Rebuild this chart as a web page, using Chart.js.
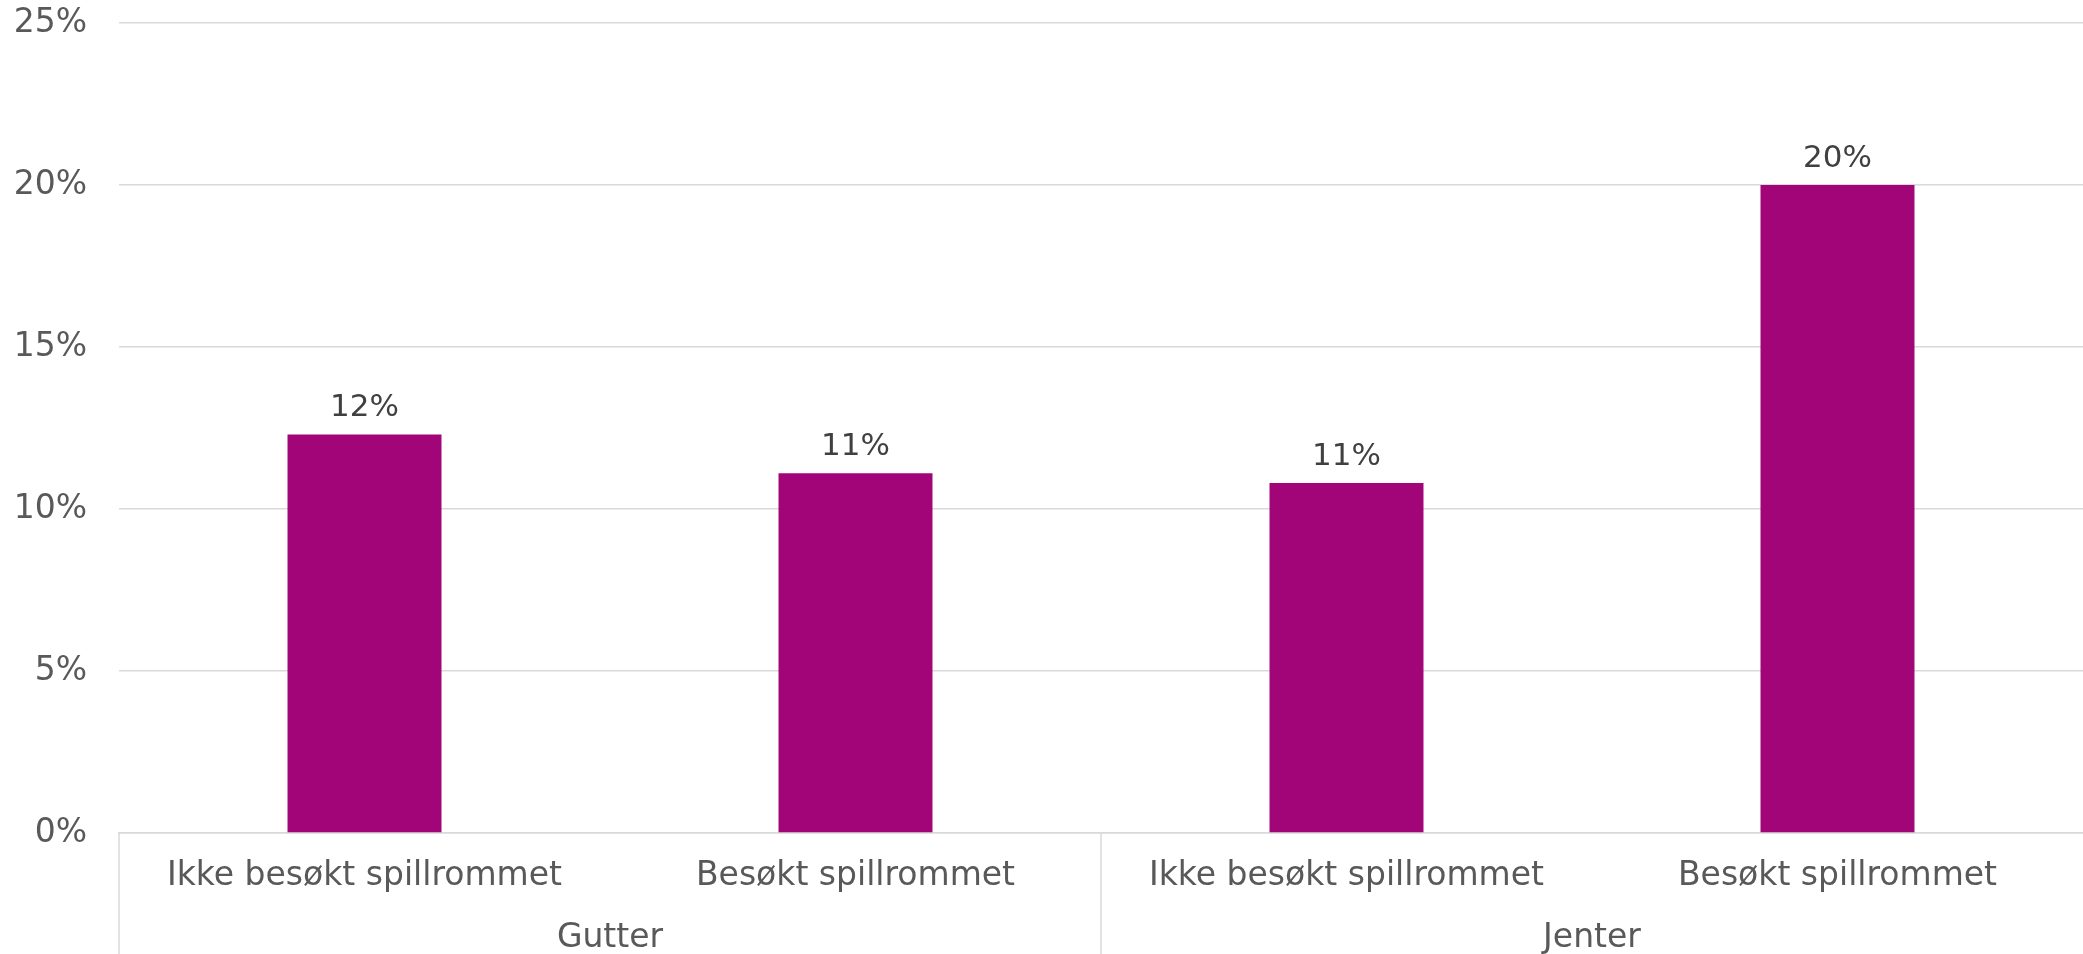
<!DOCTYPE html>
<html>
<head>
<meta charset="utf-8">
<script src="https://cdn.jsdelivr.net/npm/chart.js@4/dist/chart.umd.min.js"></script>
<style>
  html, body { margin: 0; padding: 0; background: #ffffff; }
  #wrap { width: 2083px; height: 954px; }
</style>
</head>
<body>
<div id="wrap"><canvas id="chart" width="2083" height="954"></canvas></div>
<script>
// Andel (%) per gruppe
const categories = ['Ikke besøkt spillrommet', 'Besøkt spillrommet', 'Ikke besøkt spillrommet', 'Besøkt spillrommet'];
const groups = ['Gutter', 'Jenter'];
const values = [12.3, 11.1, 10.8, 20.0];
const yTicks = [0, 5, 10, 15, 20, 25];

const FONT = '"DejaVu Sans", Verdana, sans-serif';
const BAR_COLOR = '#A10578';
const GRID_COLOR = '#D9D9D9';
const TICK_COLOR = '#595959';
const LABEL_COLOR = '#404040';

// Value labels above each bar
const valueLabels = {
  id: 'valueLabels',
  afterDatasetsDraw(chart) {
    const ctx = chart.ctx;
    const meta = chart.getDatasetMeta(0);
    ctx.save();
    ctx.font = '31px ' + FONT;
    ctx.fillStyle = LABEL_COLOR;
    ctx.textAlign = 'center';
    ctx.textBaseline = 'alphabetic';
    meta.data.forEach((bar, i) => {
      const v = chart.data.datasets[0].data[i];
      ctx.fillText(Math.round(v) + '%', bar.x, bar.y - 18);
    });
    ctx.restore();
  }
};

// Vertical separators between the two groups on the category axis
const groupDividers = {
  id: 'groupDividers',
  afterDraw(chart) {
    const ctx = chart.ctx;
    const x = chart.scales.x;
    const area = chart.chartArea;
    const per = categories.length / groups.length;
    const edges = [area.left];
    for (let g = 1; g < groups.length; g++) {
      edges.push((x.getPixelForValue(g * per - 1) + x.getPixelForValue(g * per)) / 2);
    }
    ctx.save();
    ctx.strokeStyle = GRID_COLOR;
    ctx.lineWidth = 1.5;
    edges.forEach(px => {
      ctx.beginPath();
      ctx.moveTo(px, area.bottom);
      ctx.lineTo(px, chart.height);
      ctx.stroke();
    });
    ctx.restore();
  }
};

new Chart(document.getElementById('chart'), {
  type: 'bar',
  data: {
    labels: categories,
    datasets: [{
      data: values,
      backgroundColor: BAR_COLOR,
      borderWidth: 0,
      barPercentage: 0.3136,
      categoryPercentage: 1.0
    }]
  },
  options: {
    responsive: false,
    animation: false,
    devicePixelRatio: 1,
    layout: { padding: { top: 23, right: 0, bottom: 0, left: 0 } },
    plugins: {
      legend: { display: false },
      tooltip: { enabled: false },
      title: { display: false }
    },
    scales: {
      x: {
        type: 'category',
        position: 'bottom',
        weight: 0,
        offset: true,
        grid: { display: false, drawTicks: false },
        border: { display: true, color: GRID_COLOR, width: 1.5 },
        ticks: {
          color: TICK_COLOR,
          font: { family: FONT, size: 33 },
          padding: 24,
          maxRotation: 0,
          autoSkip: false
        },
        afterFit(scale) { scale.height = 60; scale.paddingLeft = 0; scale.paddingRight = 0; }
      },
      x2: {
        type: 'category',
        position: 'bottom',
        weight: 1,
        labels: groups,
        offset: true,
        grid: { display: false, drawTicks: false },
        border: { display: false },
        ticks: {
          color: TICK_COLOR,
          font: { family: FONT, size: 33 },
          padding: 26,
          maxRotation: 0,
          autoSkip: false
        },
        afterFit(scale) { scale.height = 61; scale.paddingLeft = 0; scale.paddingRight = 0; }
      },
      y: {
        min: 0,
        max: 25,
        afterBuildTicks(scale) { scale.ticks = yTicks.map(v => ({ value: v })); },
        grid: { color: GRID_COLOR, lineWidth: 1.5, drawTicks: false },
        border: { display: false },
        ticks: {
          color: TICK_COLOR,
          font: { family: FONT, size: 33 },
          padding: 32,
          callback: v => v + '%'
        },
        afterFit(scale) { scale.width = 119; scale.paddingTop = 0; scale.paddingBottom = 0; }
      }
    }
  },
  plugins: [valueLabels, groupDividers]
});
</script>
</body>
</html>
